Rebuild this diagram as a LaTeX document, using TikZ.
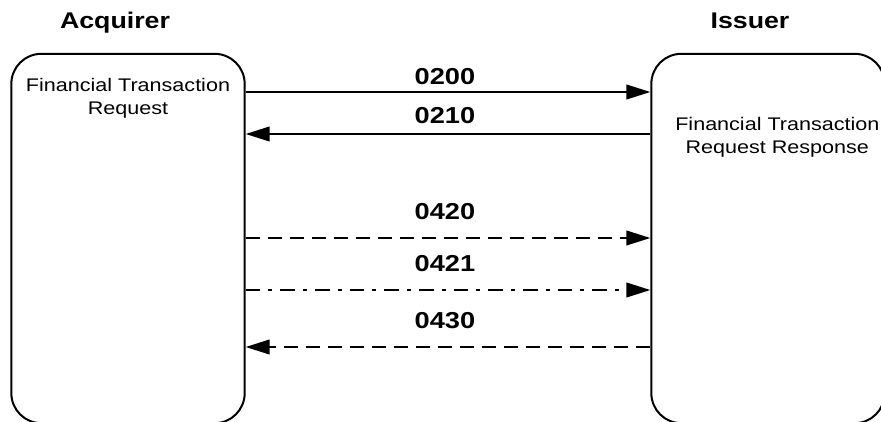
\documentclass[tikz,border=0pt]{standalone}
\usepackage{fontspec}
\setmainfont{Liberation Sans}[FakeStretch=1.18]
\usepackage{tikz}
\usetikzlibrary{arrows.meta,positioning}
\tikzset{
  party/.style={draw=black,line width=1.5pt,rounded corners=22.5pt,
    minimum width=175pt,minimum height=277pt,inner sep=0pt},
  partytitle/.style={font=\fontsize{17}{20}\selectfont\bfseries,inner sep=0pt,anchor=base},
  partytext/.style={font=\fontsize{13.7}{17.25}\selectfont,align=center,inner sep=0pt,anchor=north},
  msglabel/.style={font=\fontsize{17.3}{20}\selectfont\bfseries,inner sep=0pt,anchor=base},
  msg/.style={line width=1.5pt,-{Triangle[length=18pt,width=11pt]}},
  advice/.style={msg,dash pattern=on 10.5pt off 6pt},
  advicerep/.style={msg,dash pattern=on 11pt off 6pt on 3pt off 6pt},
}
\begin{document}
\begin{tikzpicture}[x=0.75pt,y=-0.75pt]
    \useasboundingbox (0,0) rectangle (881,421);
    % parties
    \node[party] (acq) at (128,238.5) {};
    \node[party] (iss) at (768,238.5) {};
    \node[partytitle] (tacq) at (115,28) {Acquirer};
    \node[partytitle] (tiss) at (750,28) {Issuer};
    \node[partytext, below=19pt of acq.north] (dacq) {Financial Transaction\\Request};
    \node[partytext, below=48pt of iss.north, xshift=7pt] (diss) {Financial Transaction\\Request Response};
    % message rows
    \coordinate (r200) at (0,92);
    \coordinate (r210) at (0,134);
    \coordinate (r420) at (0,238);
    \coordinate (r421) at (0,290);
    \coordinate (r430) at (0,347);
    % message labels
    \node[msglabel] (l200) at (445,84) {0200};
    \node[msglabel] (l210) at (445,123) {0210};
    \node[msglabel] (l420) at (445,219) {0420};
    \node[msglabel] (l421) at (445,271) {0421};
    \node[msglabel] (l430) at (445,328) {0430};
    % messages
    \draw[msg] (acq.east |- r200) -- (iss.west |- r200);
    \draw[msg] (iss.west |- r210) -- (acq.east |- r210);
    \draw[advice] (acq.east |- r420) -- (iss.west |- r420);
    \draw[advicerep] (acq.east |- r421) -- (iss.west |- r421);
    \draw[advice] (iss.west |- r430) -- (acq.east |- r430);
\end{tikzpicture}
\end{document}
